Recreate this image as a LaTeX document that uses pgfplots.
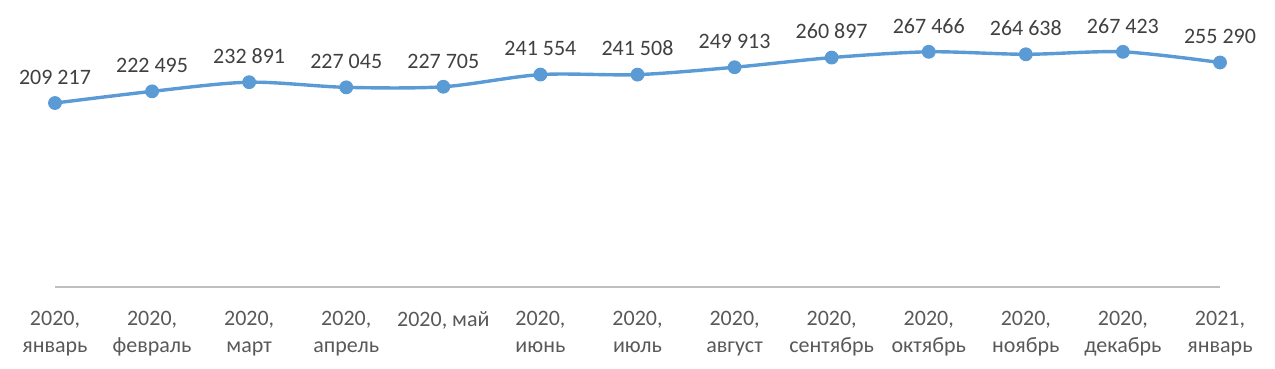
\documentclass[border=0pt]{standalone}
\usepackage{pgfplots}
\pgfplotsset{compat=1.18}
\usepackage{fontspec}
\setmainfont{Carlito}
\definecolor{lineblue}{HTML}{5B9BD5}
\definecolor{axisgray}{HTML}{BFBFBF}
\definecolor{tickgray}{HTML}{595959}
\definecolor{labelgray}{HTML}{404040}
\begin{document}
\begin{tikzpicture}
\begin{axis}[
  scale only axis,
  width=582.5pt, height=131.9pt,
  xmin=0, xmax=12, ymin=0, ymax=300000,
  axis x line=bottom, axis y line=none,
  x axis line style={-, draw=axisgray, line width=0.75pt},
  xtick={0,...,12},
  xticklabels={{2020,\\январь},{2020,\\февраль},{2020,\\март},{2020,\\апрель},{2020, май},{2020,\\июнь},{2020,\\июль},{2020,\\август},{2020,\\сентябрь},{2020,\\октябрь},{2020,\\ноябрь},{2020,\\декабрь},{2021,\\январь}},
  xtick style={draw=none},
  xticklabel style={align=center, font=\fontsize{11}{13.5}\selectfont, text=tickgray, anchor=north, inner sep=0pt, yshift=-10pt},
  ytick=\empty,
  clip=false,
  nodes near coords,
  point meta=explicit symbolic,
  every node near coord/.append style={font=\fontsize{11}{13.5}\selectfont, text=labelgray, anchor=south, inner sep=0pt, yshift=9pt},
]
\addplot[smooth, color=lineblue, line width=1.7pt, mark=*, mark size=3.2pt, mark options={solid, fill=lineblue, draw=lineblue, line width=0.5pt}]
coordinates {
(0,209217)[209 217]
(1,222495)[222 495]
(2,232891)[232 891]
(3,227045)[227 045]
(4,227705)[227 705]
(5,241554)[241 554]
(6,241508)[241 508]
(7,249913)[249 913]
(8,260897)[260 897]
(9,267466)[267 466]
(10,264638)[264 638]
(11,267423)[267 423]
(12,255290)[255 290]
};
\coordinate (O) at (axis cs:0,0);
\end{axis}
\pgfresetboundingbox
\path (O) ++(-27.5pt,-41pt) rectangle ++(637.5pt,184.5pt);
\end{tikzpicture}
\end{document}
